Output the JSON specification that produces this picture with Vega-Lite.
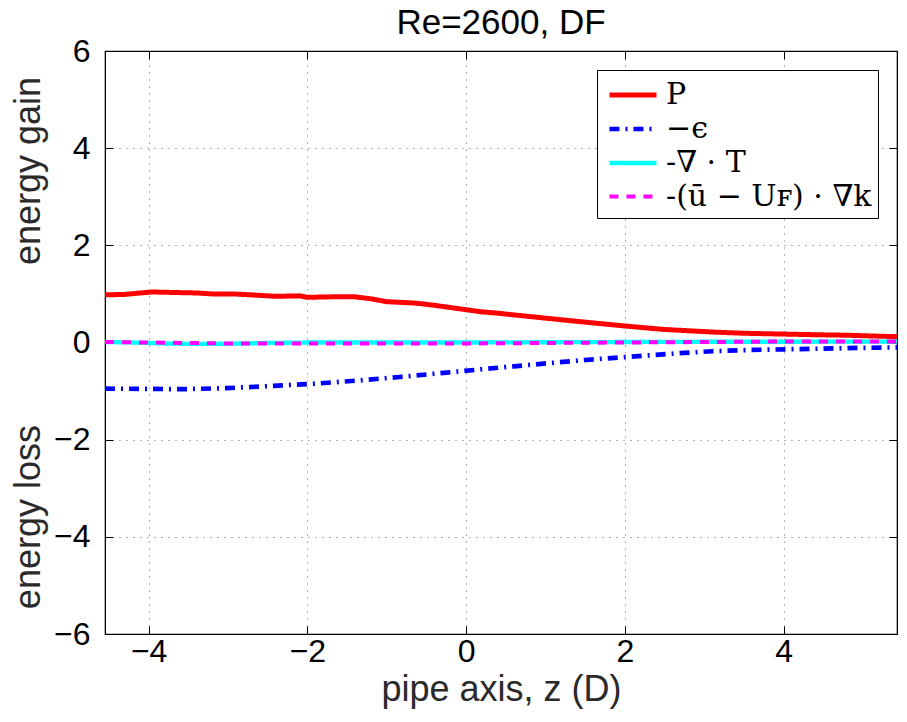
{
  "$schema": "https://vega.github.io/schema/vega-lite/v6.json",
  "width": 792,
  "height": 583,
  "autosize": "none",
  "padding": {"left": 105, "top": 51, "right": 10, "bottom": 88},
  "background": "white",
  "title": {"text": "Re=2600, DF", "fontSize": 35, "font": "Liberation Sans", "fontWeight": "normal", "color": "black", "offset": -6},
  "config": {
    "view": {"stroke": "black", "strokeWidth": 1.2},
    "axis": {"labelFont": "Liberation Sans", "titleFont": "Liberation Sans", "labelColor": "black", "titleColor": "#2a2a2a", "titleFontWeight": "normal", "domainColor": "black", "tickColor": "black", "labelFontSize": 32, "titleFontSize": 36}
  },
  "datasets": {
    "curves": [
      {"s": "P", "z": -4.55, "v": 0.98}, {"s": "P", "z": -4.3, "v": 0.99}, {"s": "P", "z": -4.1, "v": 1.02}, {"s": "P", "z": -3.95, "v": 1.04}, {"s": "P", "z": -3.7, "v": 1.03}, {"s": "P", "z": -3.4, "v": 1.02}, {"s": "P", "z": -3.2, "v": 1.0}, {"s": "P", "z": -2.94, "v": 1.0}, {"s": "P", "z": -2.7, "v": 0.98}, {"s": "P", "z": -2.4, "v": 0.95}, {"s": "P", "z": -2.1, "v": 0.96}, {"s": "P", "z": -2.0, "v": 0.93}, {"s": "P", "z": -1.7, "v": 0.94}, {"s": "P", "z": -1.4, "v": 0.94}, {"s": "P", "z": -1.2, "v": 0.9}, {"s": "P", "z": -1.0, "v": 0.84}, {"s": "P", "z": -0.63, "v": 0.81}, {"s": "P", "z": -0.42, "v": 0.77}, {"s": "P", "z": -0.2, "v": 0.72}, {"s": "P", "z": 0.0, "v": 0.675}, {"s": "P", "z": 0.2, "v": 0.63}, {"s": "P", "z": 0.42, "v": 0.6}, {"s": "P", "z": 0.59, "v": 0.57}, {"s": "P", "z": 1.01, "v": 0.5}, {"s": "P", "z": 1.43, "v": 0.43}, {"s": "P", "z": 2.0, "v": 0.34}, {"s": "P", "z": 2.48, "v": 0.27}, {"s": "P", "z": 3.11, "v": 0.215}, {"s": "P", "z": 3.5, "v": 0.19}, {"s": "P", "z": 3.95, "v": 0.175}, {"s": "P", "z": 4.4, "v": 0.16}, {"s": "P", "z": 4.79, "v": 0.15}, {"s": "P", "z": 5.1, "v": 0.135}, {"s": "P", "z": 5.43, "v": 0.12},
      {"s": "−ϵ", "z": -4.55, "v": -0.95}, {"s": "−ϵ", "z": -4.0, "v": -0.955}, {"s": "−ϵ", "z": -3.57, "v": -0.96}, {"s": "−ϵ", "z": -3.02, "v": -0.94}, {"s": "−ϵ", "z": -2.52, "v": -0.9}, {"s": "−ϵ", "z": -1.93, "v": -0.85}, {"s": "−ϵ", "z": -1.34, "v": -0.78}, {"s": "−ϵ", "z": -0.84, "v": -0.71}, {"s": "−ϵ", "z": -0.25, "v": -0.62}, {"s": "−ϵ", "z": 0.2, "v": -0.55}, {"s": "−ϵ", "z": 0.6, "v": -0.49}, {"s": "−ϵ", "z": 1.01, "v": -0.43}, {"s": "−ϵ", "z": 1.5, "v": -0.36}, {"s": "−ϵ", "z": 2.0, "v": -0.3}, {"s": "−ϵ", "z": 2.69, "v": -0.22}, {"s": "−ϵ", "z": 3.1, "v": -0.18}, {"s": "−ϵ", "z": 3.53, "v": -0.155}, {"s": "−ϵ", "z": 4.37, "v": -0.13}, {"s": "−ϵ", "z": 5.0, "v": -0.11}, {"s": "−ϵ", "z": 5.43, "v": -0.1},
      {"s": "-∇ · T", "z": -4.55, "v": 0.01}, {"s": "-∇ · T", "z": -4.2, "v": 0.0}, {"s": "-∇ · T", "z": -3.8, "v": -0.02}, {"s": "-∇ · T", "z": -3.4, "v": -0.03}, {"s": "-∇ · T", "z": -3.0, "v": -0.025}, {"s": "-∇ · T", "z": -2.5, "v": -0.01}, {"s": "-∇ · T", "z": -2.0, "v": 0.0}, {"s": "-∇ · T", "z": -1.0, "v": 0.0}, {"s": "-∇ · T", "z": 0.0, "v": 0.0}, {"s": "-∇ · T", "z": 1.0, "v": 0.005}, {"s": "-∇ · T", "z": 2.0, "v": 0.01}, {"s": "-∇ · T", "z": 3.0, "v": 0.015}, {"s": "-∇ · T", "z": 4.0, "v": 0.015}, {"s": "-∇ · T", "z": 5.43, "v": 0.02},
      {"s": "-(ū − Uꜰ) · ∇k", "z": -4.55, "v": 0.01}, {"s": "-(ū − Uꜰ) · ∇k", "z": -4.0, "v": 0.0}, {"s": "-(ū − Uꜰ) · ∇k", "z": -3.0, "v": -0.02}, {"s": "-(ū − Uꜰ) · ∇k", "z": -2.0, "v": -0.02}, {"s": "-(ū − Uꜰ) · ∇k", "z": -1.0, "v": -0.02}, {"s": "-(ū − Uꜰ) · ∇k", "z": 0.0, "v": -0.02}, {"s": "-(ū − Uꜰ) · ∇k", "z": 1.0, "v": -0.01}, {"s": "-(ū − Uꜰ) · ∇k", "z": 2.0, "v": 0.0}, {"s": "-(ū − Uꜰ) · ∇k", "z": 3.0, "v": 0.01}, {"s": "-(ū − Uꜰ) · ∇k", "z": 4.0, "v": 0.02}, {"s": "-(ū − Uꜰ) · ∇k", "z": 5.43, "v": 0.02}
    ]
  },
  "data": {"name": "curves"},
  "layer": [
    {
      "mark": {"type": "line", "clip": true},
      "encoding": {
        "x": {"field": "z", "type": "quantitative", "scale": {"domain": [-4.55, 5.43], "nice": false, "zero": false},
              "axis": {"values": [-4, -2, 0, 2, 4], "title": "pipe axis, z (D)", "grid": true, "gridDash": [1, 6], "gridColor": "#000", "gridOpacity": 0.6, "tickSize": -8, "labelPadding": 10, "titlePadding": 5}},
        "y": {"field": "v", "type": "quantitative", "scale": {"domain": [-6, 6], "nice": false, "zero": false},
              "axis": {"values": [-6, -4, -2, 0, 2, 4, 6], "title": "energy loss\u00a0\u00a0\u00a0\u00a0\u00a0\u00a0\u00a0\u00a0\u00a0\u00a0\u00a0\u00a0\u00a0\u00a0\u00a0\u00a0energy gain", "grid": true, "gridDash": [1, 6], "gridColor": "#000", "gridOpacity": 0.6, "tickSize": -8, "labelPadding": 23, "titlePadding": 6}},
        "color": {"field": "s", "type": "nominal", "scale": {"domain": ["P", "−ϵ", "-∇ · T", "-(ū − Uꜰ) · ∇k"], "range": ["#ff0000", "#0000ff", "#00ffff", "#ff00ff"]},
                  "legend": {"title": null, "orient": "top-right", "offset": 19, "strokeColor": "black", "fillColor": "white", "padding": 6, "labelFont": "DejaVu Serif", "labelFontSize": 30, "labelColor": "black", "symbolType": "M-0.76,0H2.09", "symbolSize": 1089, "rowPadding": 0, "labelOffset": 25, "labelLimit": 400}},
        "strokeDash": {"field": "s", "type": "nominal", "scale": {"domain": ["P", "−ϵ", "-∇ · T", "-(ū − Uꜰ) · ∇k"], "range": [[1, 0], [10, 6, 2, 6], [1, 0], [9, 8]]}, "legend": {"title": null}},
        "strokeWidth": {"field": "s", "type": "nominal", "scale": {"domain": ["P", "−ϵ", "-∇ · T", "-(ū − Uꜰ) · ∇k"], "range": [5, 4, 2.5, 4]}, "legend": {"title": null}}
      }
    },
    {
      "mark": {"type": "line", "strokeOpacity": 0},
      "encoding": {
        "x": {"field": "z", "type": "quantitative", "scale": {"domain": [-4.55, 5.43], "nice": false, "zero": false},
              "axis": {"orient": "top", "values": [-4, -2, 0, 2, 4], "labels": false, "title": null, "grid": false, "tickSize": -8}},
        "y": {"field": "v", "type": "quantitative", "scale": {"domain": [-6, 6], "nice": false, "zero": false},
              "axis": {"orient": "right", "values": [-6, -4, -2, 0, 2, 4, 6], "labels": false, "title": null, "grid": false, "tickSize": -8}}
      }
    }
  ],
  "resolve": {"scale": {"x": "independent", "y": "independent"}}
}
